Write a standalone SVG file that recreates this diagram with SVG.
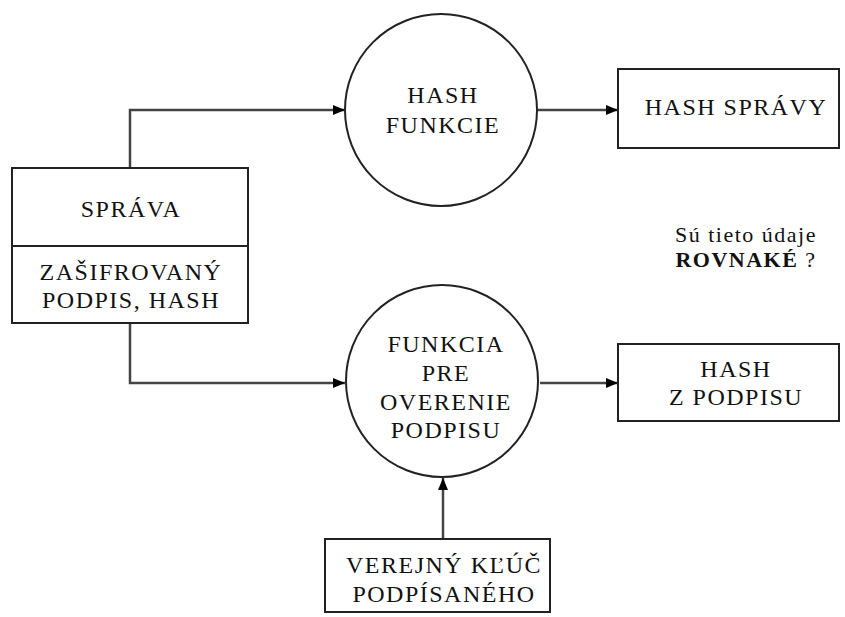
<svg xmlns="http://www.w3.org/2000/svg" width="845" height="617" viewBox="0 0 845 617">
<defs>
<marker id="arr" markerWidth="12" markerHeight="10" refX="12" refY="5" orient="auto" markerUnits="userSpaceOnUse">
<path d="M0,0 L12,5 L0,10 z" fill="#000"/>
</marker>
<style>
.box{fill:#fff;stroke:#222;stroke-width:2}
.ln{fill:none;stroke:#444;stroke-width:2.5}
.t{fill:#111;text-anchor:middle;letter-spacing:1.5px}
</style>
</defs>
<rect width="845" height="617" fill="#fff"/>
<g id="connectors">
<path class="ln" d="M130,168 V110 H345" marker-end="url(#arr)"/>
<path class="ln" d="M130,323 V383 H345" marker-end="url(#arr)"/>
<path class="ln" d="M537,110 H618" marker-end="url(#arr)"/>
<path class="ln" d="M540,383 H618" marker-end="url(#arr)"/>
<path class="ln" d="M443,539 V478" marker-end="url(#arr)"/>
</g>
<g class="t" font-family="Liberation Serif, Times New Roman, serif" font-size="24">
<g id="sprava">
<rect class="box" x="12" y="168" width="236" height="155"/>
<line x1="12" y1="246" x2="248" y2="246" stroke="#222" stroke-width="2"/>
<text x="131" y="217">SPRÁVA</text>
<text x="131" y="280">ZAŠIFROVANÝ</text>
<text x="131" y="308">PODPIS, HASH</text>
</g>
<g id="hash-funkcie">
<circle class="box" cx="441" cy="110" r="96"/>
<text x="443" y="103">HASH</text>
<text x="443" y="133">FUNKCIE</text>
</g>
<g id="hash-spravy">
<rect class="box" x="618" y="69" width="221" height="79"/>
<text x="736" y="115">HASH SPRÁVY</text>
</g>
<g id="funkcia">
<circle class="box" cx="442" cy="381" r="96"/>
<text x="446" y="352">FUNKCIA</text>
<text x="446" y="381">PRE</text>
<text x="446" y="410">OVERENIE</text>
<text x="446" y="438">PODPISU</text>
</g>
<g id="hash-z-podpisu">
<rect class="box" x="618" y="344" width="221" height="77"/>
<text x="736" y="377">HASH</text>
<text x="736" y="405">Z PODPISU</text>
</g>
<g id="verejny">
<rect class="box" x="325" y="539" width="225" height="73"/>
<text x="444" y="573">VEREJNÝ KĽÚČ</text>
<text x="444" y="602">PODPÍSANÉHO</text>
</g>
<g id="otazka" font-size="22">
<text x="746" y="242">Sú tieto údaje</text>
<text x="746" y="267"><tspan font-weight="bold">ROVNAKÉ</tspan> ?</text>
</g>
</g>
</svg>
